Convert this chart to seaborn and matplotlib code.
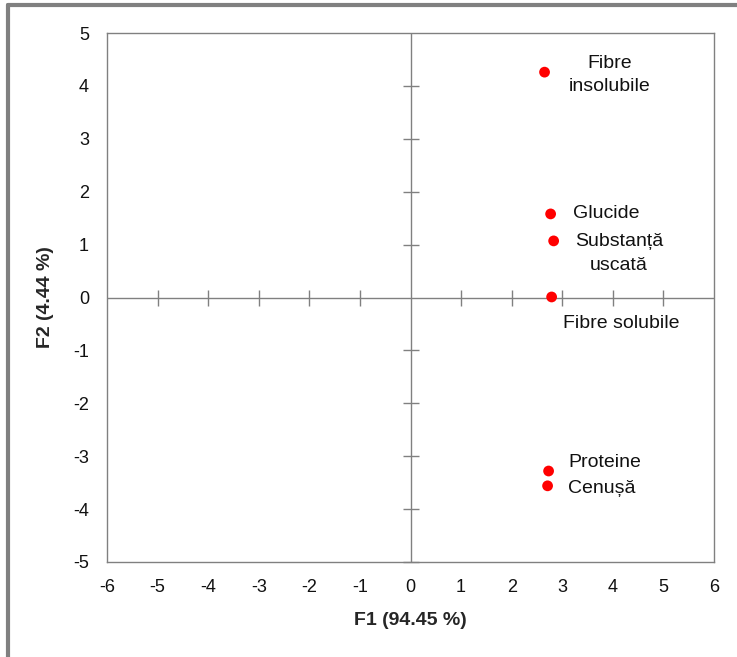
import matplotlib
matplotlib.use("Agg")
import matplotlib.pyplot as plt
import seaborn as sns
import pandas as pd
from matplotlib.lines import Line2D

sns.set_style("white")
plt.rcParams["font.family"] = ["Liberation Sans", "DejaVu Sans"]

variables = ["Fibre insolubile", "Glucide", "Substanță uscată",
             "Fibre solubile", "Proteine", "Cenușă"]
f1 = [2.65, 2.77, 2.83, 2.79, 2.73, 2.71]
f2 = [4.26, 1.58, 1.07, 0.01, -3.28, -3.56]
label_text = ["Fibre\ninsolubile", "Glucide", "Substanță\nuscată",
              "Fibre solubile", "Proteine", "Cenușă"]
x_ticks = list(range(-6, 7))
y_ticks = list(range(-5, 6))

df = pd.DataFrame({"var": variables, "F1": f1, "F2": f2})

fig = plt.figure(figsize=(7.37, 6.57), dpi=100)
ax = fig.add_axes([107 / 737, 1 - 562 / 657, (714 - 107) / 737, (562 - 33) / 657])

grey = "#808080"
ax.axhline(0, color=grey, lw=1, zorder=1)
ax.axvline(0, color=grey, lw=1, zorder=1)
# tick marks crossing the central axes
xt = [v for v in x_ticks if v not in (-6, 0, 6)]
yt = [v for v in y_ticks if v not in (-5, 0, 5)]
ax.plot(xt, [0] * len(xt), ls="none", marker="|", ms=11, mew=1, color=grey, zorder=1)
ax.plot([0] * len(yt), yt, ls="none", marker="_", ms=11, mew=1, color=grey, zorder=1)
ax.plot([0], [-5], ls="none", marker="_", ms=11, mew=1, color=grey, zorder=1,
        clip_on=False)

sns.scatterplot(data=df, x="F1", y="F2", color="#ff0000", s=60, edgecolor="none",
                ax=ax, zorder=3, legend=False)

# label placement: (dx, dy) in points, horizontal alignment
placement = [(47, -2, "center"), (16, 0, "left"), (47, -9, "center"),
             (8, -19, "left"), (14, 6, "left"), (15, -2, "left")]
for x, y, t, (dx, dy, ha) in zip(f1, f2, label_text, placement):
    ax.annotate(t, (x, y), xytext=(dx, dy), textcoords="offset points",
                ha=ha, va="center", fontsize=14, color="#111111",
                linespacing=1.5)

ax.set_xlim(-6, 6)
ax.set_ylim(-5, 5)
ax.set_xticks(x_ticks)
ax.set_yticks(y_ticks)
ax.set_xticklabels([str(v) for v in x_ticks])
ax.set_yticklabels([str(v) for v in y_ticks])
ax.tick_params(length=0, labelsize=13, colors="#111111")
ax.tick_params(axis="y", pad=13)
ax.tick_params(axis="x", pad=12)
for s in ax.spines.values():
    s.set_color(grey)
    s.set_linewidth(1)
ax.set_xlabel("F1 (94.45 %)", fontsize=14, fontweight="bold", labelpad=12)
ax.set_ylabel("F2 (4.44 %)", fontsize=14, fontweight="bold", labelpad=14)

# outer frame
fig.add_artist(Line2D([8 / 737, 8 / 737], [0, 1 - 5 / 657], color=grey, lw=3,
                      transform=fig.transFigure))
fig.add_artist(Line2D([8 / 737, 1], [1 - 5 / 657, 1 - 5 / 657], color=grey, lw=3,
                      transform=fig.transFigure))

fig.savefig("out.png", dpi=100, facecolor="white")
